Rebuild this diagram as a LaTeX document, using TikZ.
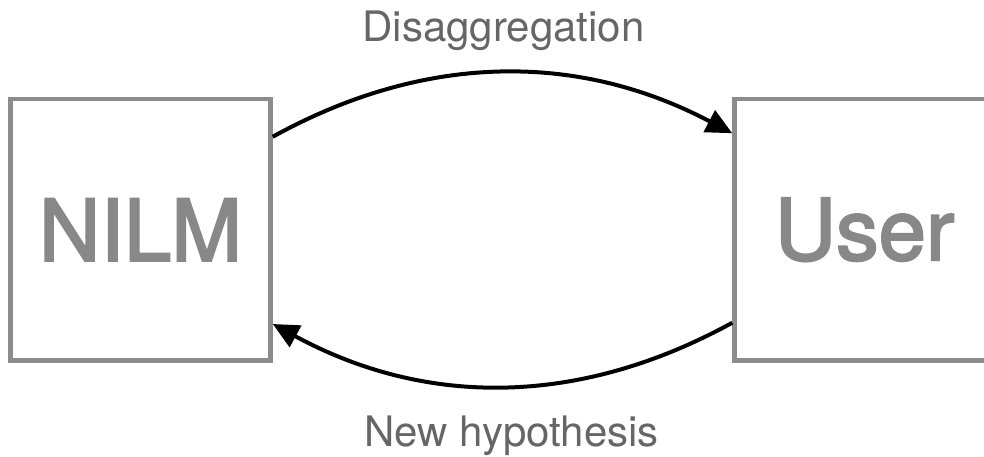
\documentclass[tikz,border=0pt]{standalone}
\usepackage{fontspec}
\setmainfont{TeX Gyre Heros}
\newfontfamily\bigfont[FakeBold=2.5]{TeX Gyre Heros}
\usetikzlibrary{arrows.meta}
\definecolor{boxgray}{HTML}{8C8C8C}
\definecolor{biggray}{HTML}{888888}
\definecolor{labgray}{HTML}{666666}
\tikzset{
  block/.style={draw=boxgray, line width=4.5pt, fill=white, minimum width=260pt, minimum height=261.5pt,
    inner sep=0pt, text=biggray, font=\bigfont\fontsize{85}{90}\selectfont},
  lab/.style={text=labgray, font=\fontsize{42}{46}\selectfont, anchor=base, inner sep=0pt},
  flow/.style={line width=4pt, -{Triangle[length=26pt,width=24pt]}}
}
\begin{document}
\begin{tikzpicture}[x=1pt,y=-1pt]
\clip (0,0) rectangle (984,457);
\fill[white] (0,0) rectangle (984,457);
\node[block] (nilm) at (140.5,229.75) {NILM};
\node[block] (user) at (864.5,229.75) {User};
\node[lab] (dis) at (503.5,42) {Disaggregation};
\node[lab] (hyp) at (511.5,446.7) {New hypothesis};
\draw[flow] ([yshift=-40pt]nilm.north east) .. controls (425.7,52.3) and (578.7,52.3) .. ([yshift=-36.5pt]user.north west);
\draw[flow] ([yshift=40pt]user.south west) .. controls (578.7,407) and (425.7,407) .. ([yshift=38.75pt]nilm.south east);
\end{tikzpicture}
\end{document}
